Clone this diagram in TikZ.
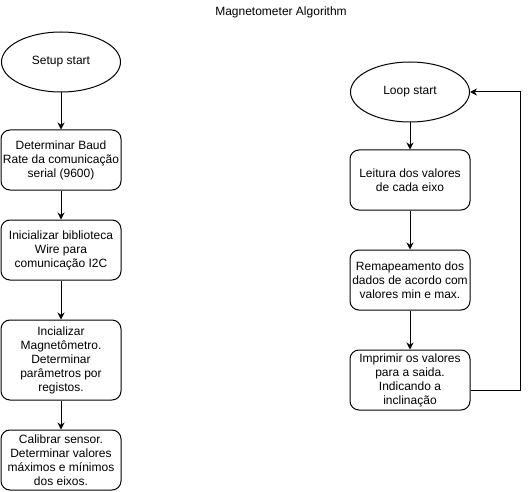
\documentclass[tikz,border=0pt]{standalone}
\usepackage{fontspec}
\setmainfont{Liberation Sans}
\usetikzlibrary{arrows.meta,shapes.geometric}

\begin{document}
\begin{tikzpicture}[x=1pt, y=-1pt, line width=1pt, font=\fontsize{12}{14}\selectfont,
  stepbox/.style={draw, rounded corners=9pt, minimum width=120pt, minimum height=60pt, align=center, inner sep=0pt},
  startnode/.style={draw, ellipse, minimum width=119pt, minimum height=60pt, inner sep=0pt},
  flow/.style={-{Stealth[length=7pt,width=7pt]}}]
	\useasboundingbox (0,0) rectangle (530,492);
	\node (title) at (281,12) {Magnetometer Algorithm};
	% setup column
	\node[startnode] (setup) at (61,62) {Setup start};
	\node[stepbox] (baud) at (61,160) {Determinar Baud\\Rate da comunicação\\serial (9600)};
	\node[stepbox] (wire) at (61,250) {Inicializar biblioteca\\Wire para\\comunicação I2C};
	\node[stepbox, minimum height=80pt] (magn) at (61,360) {Incializar\\Magnetômetro.\\Determinar\\parâmetros por\\registos.};
	\node[stepbox] (calib) at (61,460) {Calibrar sensor.\\Determinar valores\\máximos e mínimos\\dos eixos.};
	\draw[flow] (setup) -- (baud);
	\draw[flow] (baud) -- (wire);
	\draw[flow] (wire) -- (magn);
	\draw[flow] (magn) -- (calib);
	% loop column
	\node[startnode] (loop) at (410,92) {Loop start};
	\node[stepbox] (leitura) at (410,180) {Leitura dos valores\\de cada eixo};
	\node[stepbox] (remap) at (410,280) {Remapeamento dos\\dados de acordo com\\valores min e max.};
	\node[stepbox] (imprimir) at (410,380) {Imprimir os valores\\para a saida.\\Indicando a\\inclinação};
	\draw[flow] (loop) -- (leitura);
	\draw[flow] (leitura) -- (remap);
	\draw[flow] (remap) -- (imprimir);
	\draw[flow] ([yshift=-10pt]imprimir.east) -- ++(50,0) |- (loop.east);
\end{tikzpicture}
\end{document}
